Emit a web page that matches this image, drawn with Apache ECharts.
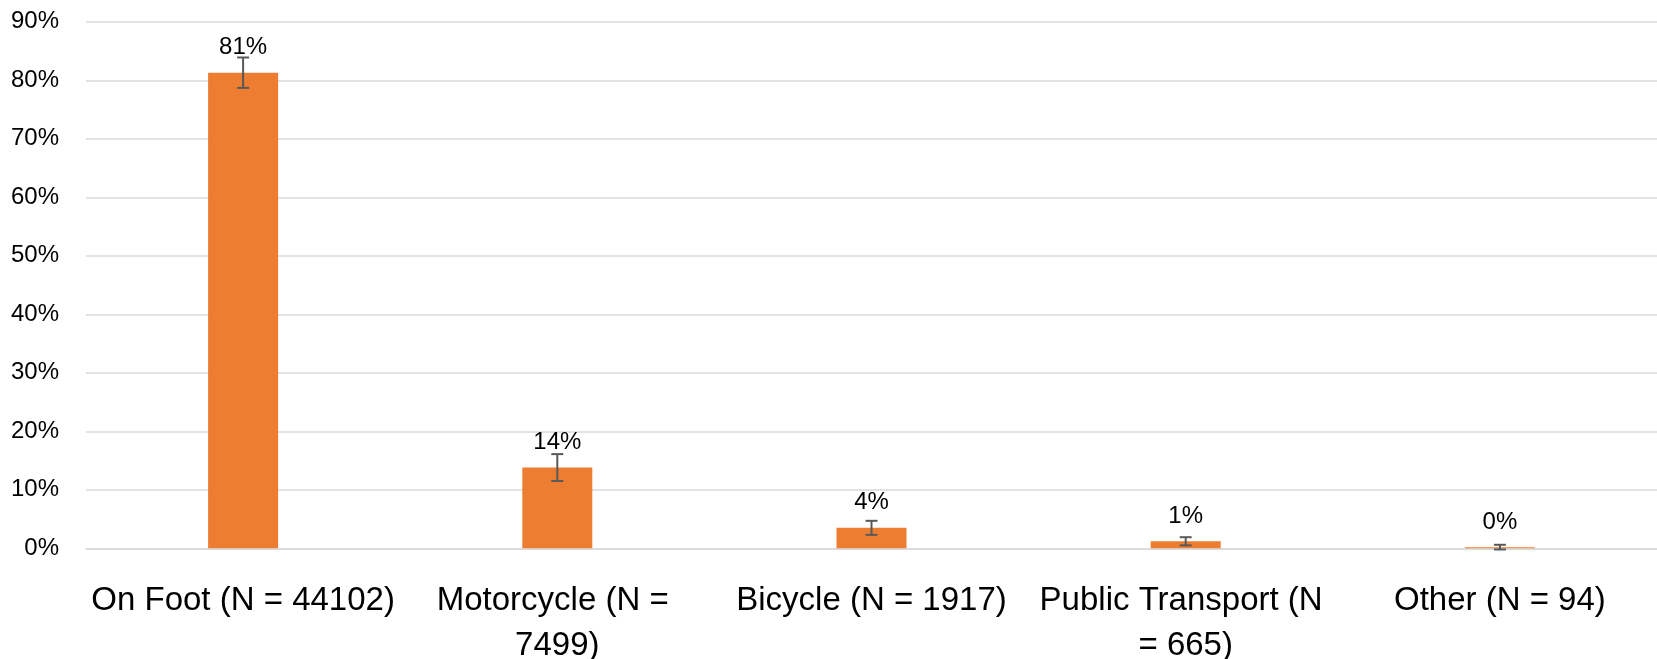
<!DOCTYPE html>
<html>
<head>
<meta charset="utf-8">
<script src="https://cdn.jsdelivr.net/npm/echarts@6/dist/echarts.min.js"></script>
<style>
html,body{margin:0;padding:0;background:#fff;}
#chart{width:1657px;height:659px;}
</style>
</head>
<body>
<div id="chart"></div>
<script>
const categories = ['On Foot (N = 44102)', 'Motorcycle (N = 7499)', 'Bicycle (N = 1917)', 'Public Transport (N = 665)', 'Other (N = 94)'];
const shares = [81.3, 13.8, 3.5, 1.2, 0.2];
const errors = [2.6, 2.3, 1.2, 0.7, 0.4];
const yTicks = [0, 10, 20, 30, 40, 50, 60, 70, 80, 90];

const FONT = 'Liberation Sans';
const chart = echarts.init(document.getElementById('chart'));
const errData = shares.map((v, i) => [i, v - errors[i], v + errors[i]]);

chart.setOption({
  animation: false,
  grid: { left: 86, right: 0, top: 21.8, bottom: 110.7, containLabel: false, outerBoundsMode: 'none' },
  xAxis: {
    type: 'category',
    data: categories,
    axisLine: { show: true, lineStyle: { color: '#d9d9d9', width: 1.5 } },
    axisTick: { show: false },
    axisLabel: {
      interval: 0,
      fontFamily: FONT,
      fontSize: 33,
      color: '#000',
      lineHeight: 45,
      margin: 30,
      width: 308,
      overflow: 'break'
    }
  },
  yAxis: {
    type: 'value',
    min: yTicks[0],
    max: yTicks[yTicks.length - 1],
    interval: 10,
    axisLine: { show: false },
    axisTick: { show: false },
    splitLine: { lineStyle: { color: '#d9d9d9', width: 1.5 } },
    axisLabel: {
      formatter: '{value}%',
      fontFamily: FONT,
      fontSize: 24,
      color: '#000',
      margin: 27
    }
  },
  series: [
    {
      type: 'bar',
      data: shares,
      barWidth: 70,
      itemStyle: { color: '#ED7D31' },
      label: {
        show: true,
        position: 'top',
        distance: 13,
        fontFamily: FONT,
        fontSize: 24,
        color: '#000',
        formatter: p => Math.round(p.value) + '%'
      },
      z: 2
    },
    {
      type: 'custom',
      data: errData,
      z: 3,
      renderItem: function (params, api) {
        const x = api.value(0);
        const lo = api.coord([x, api.value(1)]);
        const hi = api.coord([x, api.value(2)]);
        const hw = 6;
        const style = { stroke: '#595959', lineWidth: 2, fill: null };
        return {
          type: 'group',
          children: [
            { type: 'line', shape: { x1: hi[0], y1: hi[1], x2: lo[0], y2: lo[1] }, style: style },
            { type: 'line', shape: { x1: hi[0] - hw, y1: hi[1], x2: hi[0] + hw, y2: hi[1] }, style: style },
            { type: 'line', shape: { x1: lo[0] - hw, y1: lo[1], x2: lo[0] + hw, y2: lo[1] }, style: style }
          ]
        };
      },
      encode: { x: 0, y: [1, 2] }
    }
  ]
});
</script>
</body>
</html>
